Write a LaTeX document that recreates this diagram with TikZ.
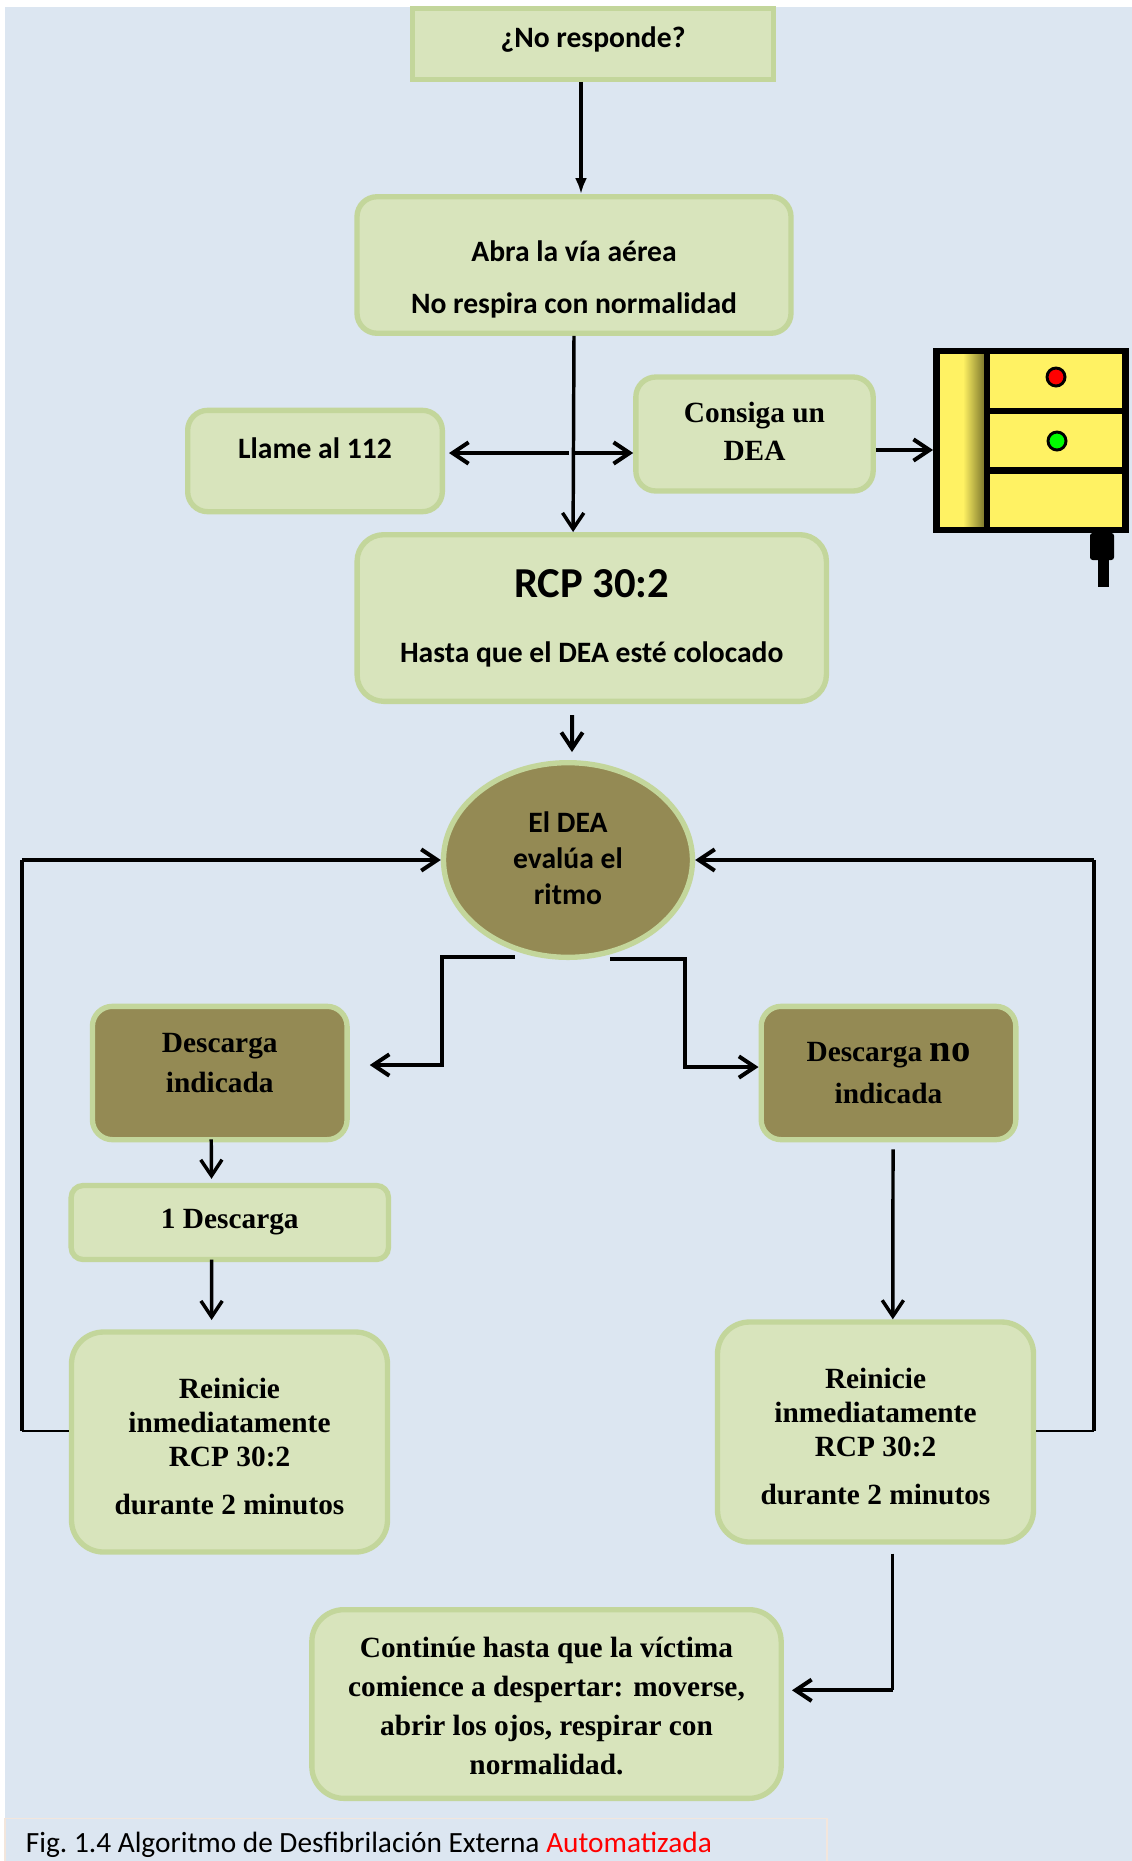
\documentclass[tikz,border=0pt]{standalone}
\usepackage{fontspec}
\setmainfont{Liberation Serif}
\newfontfamily\calibri{Carlito}
\usetikzlibrary{arrows.meta,shapes.geometric}
\definecolor{fondo}{HTML}{DCE6F1}
\definecolor{verdeclaro}{HTML}{D8E4BC}
\definecolor{verdeborde}{HTML}{C3D69B}
\definecolor{oliva}{HTML}{948A54}
\definecolor{amarillo}{HTML}{FFF263}
\definecolor{sombra}{HTML}{7F7A2E}
\definecolor{rosado}{HTML}{F3E6DC}
\newcommand{\sansb}[2]{\calibri\bfseries\fontsize{#1}{#2}\selectfont}
\newcommand{\serifb}[2]{\bfseries\fontsize{#1}{#2}\selectfont}
\tikzset{
	caja/.style={draw=verdeborde,fill=verdeclaro,line width=4pt,align=center,inner sep=0pt,rounded corners=15pt},
	cajaoliva/.style={caja,fill=oliva},
	hilo/.style={line width=1.2pt},
	fina/.style={line width=2.6pt},
	gruesa/.style={line width=3pt},
	punta/.style={-{Straight Barb[length=12pt,width=16pt]}}
}
\begin{document}
\begin{tikzpicture}[x=0.75pt,y=-0.75pt]
	\useasboundingbox (0,0) rectangle (1132,1861);
	\fill[fondo] (5,7) rectangle (1132,1861);
	% cajas
	\node[caja,rounded corners=0pt,minimum width=270.75pt,minimum height=53pt,font=\sansb{22.2}{26}] (noresponde) at (593,44) {¿No responde?\rule[-10pt]{0pt}{0pt}};
	\node[caja,minimum width=325.5pt,minimum height=102.4pt,font=\sansb{22.2}{39}] (abra) at (574,265) {\rule{0pt}{37pt}Abra la vía aérea\\No respira con normalidad};
	\node[caja,minimum width=191pt,minimum height=76pt,font=\sansb{22.2}{26}] (llame) at (315,461) {Llame al 112\rule[-19pt]{0pt}{0pt}};
	\node[caja,minimum width=178pt,minimum height=85.5pt,font=\serifb{22}{28.5}] (consiga) at (754.5,434) {Consiga un\\DEA\rule[-3.6pt]{0pt}{0pt}};
	\node[caja,rounded corners=20pt,minimum width=352pt,minimum height=125pt,font=\sansb{22.2}{49}] (rcp) at (591.75,618) {{\fontsize{32}{49}\selectfont RCP 30:2}\\Hasta que el DEA esté colocado};
	\node[draw=verdeborde,fill=oliva,line width=4pt,ellipse,align=center,inner sep=0pt,minimum width=186.75pt,minimum height=146pt,font=\sansb{22.2}{27}] (evalua) at (568,860) {El DEA\\evalúa el\\ritmo\rule[-3.5pt]{0pt}{0pt}};
	\node[cajaoliva,minimum width=191pt,minimum height=100pt,font=\serifb{22}{29.5}] (indicada) at (219.75,1073) {Descarga\\indicada\rule[-15pt]{0pt}{0pt}};
	\node[cajaoliva,minimum width=191pt,minimum height=100pt,font=\serifb{22}{31.5}] (noindicada) at (888.5,1073) {Descarga {\fontsize{29}{31.5}\selectfont no}\\indicada};
	\node[caja,rounded corners=9pt,minimum width=238pt,minimum height=55.5pt,font=\serifb{22}{26}] (descarga) at (229.8,1222.5) {1 Descarga};
	\node[caja,rounded corners=24pt,minimum width=237pt,minimum height=165pt,font=\serifb{22}{25.5}] (reiniciei) at (229.5,1442) {\rule{0pt}{22pt}Reinicie\\inmediatamente\\RCP 30:2\\[11pt]durante 2 minutos};
	\node[caja,rounded corners=24pt,minimum width=237pt,minimum height=165pt,font=\serifb{22}{25.5}] (reinicied) at (875.5,1432) {\rule{0pt}{22pt}Reinicie\\inmediatamente\\RCP 30:2\\[11pt]durante 2 minutos};
	\node[caja,rounded corners=24pt,minimum width=352pt,minimum height=141.5pt,font=\serifb{22}{29.3}] (continue) at (546.5,1704) {\rule{0pt}{18.5pt}Continúe hasta que la víctima\\comience a despertar: moverse,\\abrir los ojos, respirar con\\normalidad.};
	\node[draw=rosado,line width=1pt,minimum height=40pt,text width=585pt,inner xsep=15.75pt,inner ysep=0pt,align=flush left,font=\calibri\fontsize{22}{26}\selectfont\frenchspacing] (pie) at (416,1845) {Fig. 1.4 Algoritmo de Desfibrilación Externa \textcolor{red}{Automatizada}};
	% aparato
	\node[draw=black,fill=amarillo,line width=4.9pt,minimum width=142pt,minimum height=134pt,inner sep=0pt] (aparato) at (1031,440.5) {};
	\shade[left color=amarillo,right color=sombra] (963,354.5) rectangle (984,526.5);
	\fill[black] (984,350) rectangle (990,531);
	\fill[black] (990,408) rectangle (1127,414);
	\fill[black] (990,467) rectangle (1127,474);
	\draw[fill=red,line width=2.2pt] (1056,377) circle[radius=9];
	\draw[fill=green,line width=2.2pt] (1057,441) circle[radius=9];
	\fill[black,rounded corners=2pt] (1090,533) rectangle (1114,560);
	\fill[black] (1098,558) rectangle (1109,587);
	% flechas
	\draw[-{Latex[length=12pt,width=9pt]},gruesa] ([xshift=-9pt]noresponde.south) -- ([xshift=5.25pt]abra.north);
	\draw[punta,fina] (abra.south) -- ([xshift=-14pt]rcp.north);
	\draw[punta,gruesa] ([yshift=6pt]llame.east -| abra.south) ++(-5,0) -- ([shift={(3pt,6pt)}]llame.east);
	\draw[punta,gruesa] ([yshift=-14.25pt]consiga.west -| abra.south) -- ([yshift=-14.25pt]consiga.west);
	\draw[punta,gruesa] ([yshift=-12pt]consiga.east) -- ([yshift=-12pt]consiga.east -| aparato.west);
	\draw[punta,gruesa] ([xshift=-14.8pt,yshift=-8.25pt]rcp.south) -- ([xshift=3pt,yshift=6pt]evalua.north);
	\draw[punta,gruesa] ([shift={(-39.75pt,2.25pt)}]evalua.south) -- ++(-73,0) |- ([shift={(15pt,6pt)}]indicada.east);
	\draw[punta,gruesa] ([shift={(31.5pt,0.75pt)}]evalua.south) -- ++(74.5,0) |- ([yshift=4.5pt]noindicada.west);
	\draw[punta,fina] ([xshift=-6.4pt,yshift=2.25pt]indicada.south) -- ([xshift=-13.7pt,yshift=3pt]descarga.north);
	\draw[punta,fina] ([xshift=-13.7pt,yshift=2pt]descarga.south) -- ([xshift=-13.4pt,yshift=7pt]reiniciei.north);
	\draw[punta,fina] ([xshift=3.4pt,yshift=-5.25pt]noindicada.south) -- ([xshift=13pt]reinicied.north);
	\draw[hilo] ([yshift=8.25pt]reiniciei.west) -- ++(-47,0);
	\draw[fina] ([yshift=8.25pt]reiniciei.west) ++(-47,0) -- ++(0,-571);
	\draw[punta,gruesa] ([yshift=8.25pt]reiniciei.west) ++(-47,-571) -- (evalua.west);
	\draw[hilo] ([yshift=0.75pt]reinicied.east) -- ++(58,0);
	\draw[fina] ([yshift=0.75pt]reinicied.east) ++(58,0) -- ++(0,-571);
	\draw[punta,gruesa] ([yshift=0.75pt]reinicied.east) ++(58,-571) -- (evalua.east);
	\draw[fina] ([xshift=12.75pt,yshift=-6.75pt]reinicied.south) -- ++(0,136.6);
	\draw[punta,gruesa] ([xshift=12.75pt,yshift=-6.75pt]reinicied.south) ++(0,136.6) -- ++(-100.5,0);
\end{tikzpicture}
\end{document}
